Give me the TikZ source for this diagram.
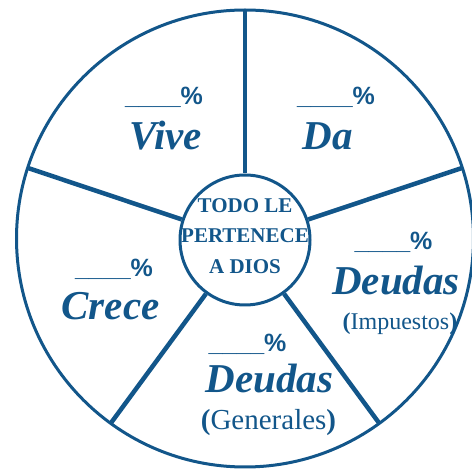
\documentclass[tikz,border=0pt]{standalone}
\usepackage{fontspec}
\setmainfont{Liberation Serif}
\newfontfamily\pctfont{Liberation Sans}
\definecolor{diosblue}{RGB}{18,86,138}
\begin{document}
\begin{tikzpicture}
  [x=1pt,y=-1pt,
   every node/.style={text=diosblue,inner sep=0pt},
   rim/.style={draw=diosblue,line width=3pt,circle,minimum size=457pt,outer sep=0pt},
   hub/.style={draw=diosblue,line width=3pt,circle,minimum size=130pt},
   hubtext/.style={align=center,font=\bfseries\fontsize{21}{30.5}\selectfont},
   spoke/.style={draw=diosblue,line width=4.5pt},
   pct/.style={anchor=base,font=\pctfont\bfseries\fontsize{25}{25}\selectfont},
   word/.style={anchor=base,font=\bfseries\itshape\fontsize{41}{41}\selectfont},
   sub/.style={anchor=base}]
  \useasboundingbox (0,0) rectangle (472,470);
  \node[rim] (rim) at (245,238.5) {};
  \node[hub] (hub) at (245,240) {};
  \node[hubtext] (hubtext) at ([yshift=4pt]hub.center) {TODO LE\\PERTENECE\\A DIOS};
  \foreach \a in {90,18,162,234,306}
    \draw[spoke] (hub.\a) -- (rim.\a);
  % top left
  \node[pct] (vivepct) at (164,105) {\_\_\_\_\%};
  \node[word] (vive) at (165.5,150) {Vive};
  % top right
  \node[pct] (dapct) at (336,105) {\_\_\_\_\%};
  \node[word] (da) at (327.5,150) {Da};
  % right
  \node[pct] (imppct) at (393.5,250) {\_\_\_\_\%};
  \node[word] (impdeuda) at (396,295) {Deudas};
  \node[sub,font=\fontsize{24}{24}\selectfont] (imp) at (400,330) {\textbf{(}Impuestos\textbf{)}};
  % left
  \node[pct] (crecepct) at (114,277) {\_\_\_\_\%};
  \node[word] (crece) at (110.5,320) {Crece};
  % bottom
  \node[pct] (genpct) at (247.5,352) {\_\_\_\_\%};
  \node[word] (gendeuda) at (269.5,393) {Deudas};
  \node[sub,font=\fontsize{29}{29}\selectfont] (gen) at (268.5,430) {\textbf{(}Generales\textbf{)}};
\end{tikzpicture}
\end{document}
